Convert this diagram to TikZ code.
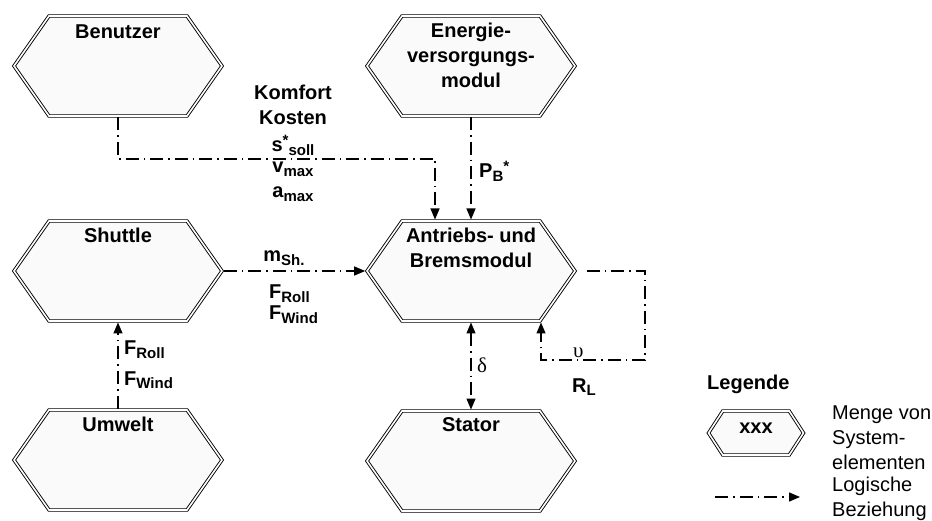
\documentclass[tikz,border=0pt]{standalone}
\usepackage{fontspec}
\setmainfont{Liberation Sans}
\newfontfamily\grk{Liberation Serif}
\usetikzlibrary{shapes.symbols,arrows.meta}

\newcommand{\subtx}[1]{\raisebox{-3.5pt}{\fontsize{15}{15}\selectfont #1}}
\newcommand{\suptx}[1]{\raisebox{6pt}{\fontsize{15}{15}\selectfont #1}}

\begin{document}
\begin{tikzpicture}[x=1pt,y=-1pt,
  hexa/.style={signal,signal to=east and west,signal pointer angle=110,
    minimum width=208pt,minimum height=100pt,inner sep=0pt,outer sep=1.5pt,
    draw,line width=0.9pt,double=white,double distance=1.6pt,fill=gray!4},
  lbl/.style={anchor=north,label distance=0pt,inner sep=0pt,yshift=-8pt,
    align=center,font=\fontsize{20}{25}\selectfont\bfseries},
  txt/.style={inner sep=0pt,font=\fontsize{20}{25}\selectfont\bfseries},
  rel/.style={line width=1.3pt,dash pattern=on 13pt off 5pt on 1.5pt off 5pt,
    -{Triangle[length=11pt,width=9pt]}}]
\useasboundingbox (0,0) rectangle (932,521);
\node[hexa,label={[lbl,yshift=-2pt]north:Benutzer}] (ben) at (118,66) {};
\node[hexa,label={[lbl]north:Energie-\\versorgungs-\\modul}] (ener) at (471,66) {};
\node[hexa,label={[lbl]north:Shuttle}] (shut) at (118,271) {};
\node[hexa,label={[lbl]north:Antriebs- und\\Bremsmodul}] (ant) at (471,271) {};
\node[hexa,label={[lbl]north:Umwelt}] (umw) at (118,460) {};
\node[hexa,label={[lbl]north:Stator}] (stat) at (471,461) {};

\coordinate (kn) at (118,159);
\coordinate (antl) at ([xshift=-36pt]ant.north);
\draw[rel] (ben.south) -- (kn) -| (antl);
\draw[rel] (ener.south) -- (ant.north);
\draw[rel] (shut.east) -- (ant.west);
\draw[rel] (umw.north) -- (shut.south);
\draw[rel,{Triangle[length=11pt,width=9pt]}-{Triangle[length=11pt,width=9pt]}] (ant.south) -- (stat.north);
\coordinate (lp) at (645,360);
\coordinate (antr) at ([xshift=70pt]ant.south);
\draw[rel] ([xshift=10pt]ant.east) -| (lp) -| (antr);

\node[txt,anchor=base] (komf) at (293,100) {Komfort};
\node[txt,anchor=base] (kost) at (293,125) {Kosten};
\node[txt,anchor=base] (ssoll) at (293,152) {s\suptx{*}\subtx{soll}};
\node[txt,anchor=base] (vmax) at (293,173) {v\subtx{max}};
\node[txt,anchor=base] (amax) at (293,198) {a\subtx{max}};
\node[txt,anchor=base west] (pb) at (479,178) {P\subtx{B}\suptx{*}};
\node[txt,anchor=base] (msh) at (284,262) {m\subtx{Sh.}};
\node[txt,anchor=base west] (froll) at (269,299) {F\subtx{Roll}};
\node[txt,anchor=base west] (fwind) at (269,320) {F\subtx{Wind}};
\node[txt,anchor=base west] (froll2) at (124,355) {F\subtx{Roll}};
\node[txt,anchor=base west] (fwind2) at (124,385) {F\subtx{Wind}};
\node[txt,anchor=base west,font=\fontsize{21}{25}\grk] (delta) at (477,373) {δ};
\node[txt,anchor=base west,font=\fontsize{21}{25}\grk] (ups) at (573,357) {υ};
\node[txt,anchor=base west] (rl) at (572,392) {R\subtx{L}};

\node[txt,anchor=base west] (lege) at (707,389) {Legende};
\node[hexa,minimum width=95pt,minimum height=44pt,signal pointer angle=114,
  label={[lbl,yshift=-5pt]north:xxx}] (leg) at (756,433) {};
\node[txt,anchor=base west,align=left,font=\fontsize{20}{25}\selectfont] (menge) at (832,469) {Menge von\\System-\\elementen};
\coordinate (la) at (715,497);
\coordinate (lb) at (800,497);
\draw[rel] (la) -- (lb);
\node[txt,anchor=base west,align=left,font=\fontsize{20}{25}\selectfont] (logi) at (832,516) {Logische\\Beziehung};
\end{tikzpicture}
\end{document}
